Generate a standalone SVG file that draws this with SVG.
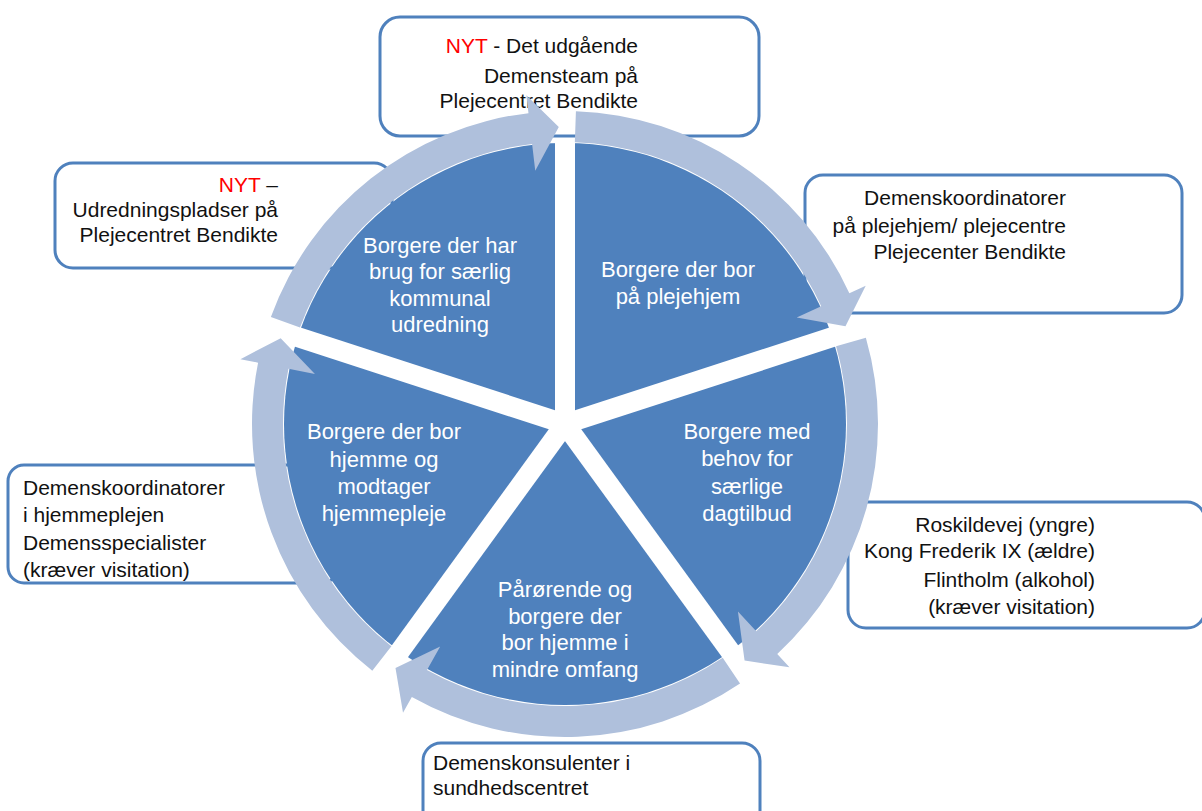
<svg xmlns="http://www.w3.org/2000/svg" xmlns:xlink="http://www.w3.org/1999/xlink" width="1202" height="811" viewBox="0 0 1202 811">
<style>
.box{fill:#fff;stroke:#4F81BD;stroke-width:3}
.bt{font-family:"Liberation Sans",Arial,sans-serif;font-size:21px;fill:#111}
.pt{font-family:"Liberation Sans",Arial,sans-serif;font-size:22px;fill:#fff;text-anchor:middle}
.red{fill:#FF0000}
.ring{fill:#AFC0DC}
</style>
<defs>
<path id="seg" d="M312.81,10.92 A313,313 0 0 1 130.79,284.36 L138.31,300.72 L97.67,280.48 L106.56,231.67 L117.84,256.2 A282,282 0 0 0 281.83,9.84 Z"/>
</defs>
<g id="box-top">
<rect class="box" x="380" y="17" width="379" height="119" rx="20"/>
<text class="bt" text-anchor="end"><tspan x="638" y="53"><tspan class="red">NYT</tspan> - Det udgående</tspan><tspan x="638" y="83">Demensteam på</tspan><tspan x="638" y="108">Plejecentret Bendikte</tspan></text>
</g>
<g id="box-left-top">
<rect class="box" x="55" y="163" width="337" height="105" rx="18"/>
<text class="bt" text-anchor="end"><tspan x="278" y="192"><tspan class="red">NYT</tspan> –</tspan><tspan x="278" y="217">Udredningspladser på</tspan><tspan x="278" y="242">Plejecentret Bendikte</tspan></text>
</g>
<g id="box-right-top">
<rect class="box" x="805" y="175" width="377" height="138" rx="18"/>
<text class="bt" text-anchor="end"><tspan x="1066" y="205">Demenskoordinatorer</tspan><tspan x="1066" y="233">på plejehjem/ plejecentre</tspan><tspan x="1066" y="259">Plejecenter Bendikte</tspan></text>
</g>
<g id="box-left-bottom">
<rect class="box" x="8" y="465" width="330" height="118" rx="16"/>
<text class="bt"><tspan x="23" y="495">Demenskoordinatorer</tspan><tspan x="23" y="522">i hjemmeplejen</tspan><tspan x="23" y="550">Demensspecialister</tspan><tspan x="23" y="577">(kræver visitation)</tspan></text>
</g>
<g id="box-right-bottom">
<rect class="box" x="848" y="502" width="357" height="126" rx="18"/>
<text class="bt" text-anchor="end"><tspan x="1095" y="532">Roskildevej (yngre)</tspan><tspan x="1095" y="558">Kong Frederik IX (ældre)</tspan><tspan x="1095" y="587">Flintholm (alkohol)</tspan><tspan x="1095" y="614">(kræver visitation)</tspan></text>
</g>
<g id="box-bottom">
<rect class="box" x="423" y="743" width="337" height="90" rx="18"/>
<text class="bt"><tspan x="433" y="770">Demenskonsulenter i</tspan><tspan x="433" y="795">sundhedscentret</tspan></text>
</g>
<g id="pie">
<circle cx="565" cy="424" r="281" fill="#4F81BD"/>
<g stroke="#fff" stroke-width="20" transform="translate(565,424)">
<line x1="0" y1="0" x2="0" y2="-283"/>
<line x1="0" y1="0" x2="269.1" y2="-87.4"/>
<line x1="0" y1="0" x2="166.3" y2="228.9"/>
<line x1="0" y1="0" x2="-166.3" y2="228.9"/>
<line x1="0" y1="0" x2="-269.1" y2="-87.4"/>
</g>
</g>
<g id="connectors" class="ring" transform="translate(565,424)">
<use xlink:href="#seg" transform="rotate(-90)"/>
<use xlink:href="#seg" transform="rotate(-18)"/>
<use xlink:href="#seg" transform="rotate(54)"/>
<use xlink:href="#seg" transform="rotate(126)"/>
<use xlink:href="#seg" transform="rotate(198)"/>
</g>
<g id="slice-top-left"><text class="pt"><tspan x="440" y="253">Borgere  der har</tspan><tspan x="440" y="279">brug for særlig</tspan><tspan x="440" y="306">kommunal</tspan><tspan x="440" y="332">udredning</tspan></text></g>
<g id="slice-top-right"><text class="pt"><tspan x="678" y="277">Borgere der bor</tspan><tspan x="678" y="304">på plejehjem</tspan></text></g>
<g id="slice-right"><text class="pt"><tspan x="747" y="439">Borgere med</tspan><tspan x="747" y="466">behov for</tspan><tspan x="747" y="494">særlige</tspan><tspan x="747" y="521">dagtilbud</tspan></text></g>
<g id="slice-bottom"><text class="pt"><tspan x="565" y="597">Pårørende og</tspan><tspan x="565" y="624">borgere der</tspan><tspan x="565" y="650">bor hjemme i</tspan><tspan x="565" y="677">mindre omfang</tspan></text></g>
<g id="slice-left"><text class="pt"><tspan x="384" y="439">Borgere der bor</tspan><tspan x="384" y="467">hjemme og</tspan><tspan x="384" y="494">modtager</tspan><tspan x="384" y="521">hjemmepleje</tspan></text></g>
</svg>
